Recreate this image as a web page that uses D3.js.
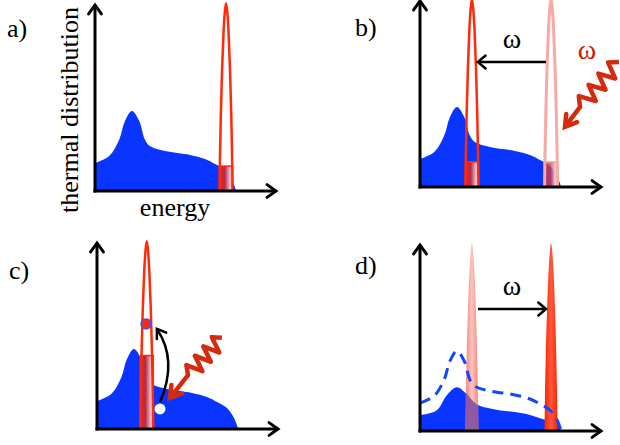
<!DOCTYPE html>
<html>
<head>
<meta charset="utf-8">
<script src="https://cdn.jsdelivr.net/npm/d3@7"></script>
<style>
body { margin: 0; background: #fff; }
</style>
</head>
<body>
<script>
// energy (0-100 along axis), occupation (0-100 up the axis)
var thermal = [[0, 15], [8, 19], [13.5, 28], [16.5, 37.5], [20.4, 43], [24.5, 37.5], [27.6, 27.5],
	[30.5, 24], [38.7, 21.5], [52.5, 19.4], [60.8, 17.2], [66.3, 14.5], [71.8, 11.3], [75.7, 5.9], [78, 0]];
var depleted = [[0, 8.6], [9.3, 11.2], [14.8, 19.2], [20.3, 23.5], [24.7, 20.9], [31.3, 14.4],
	[40.1, 11.8], [58.8, 9.1], [67.6, 6.4], [75.8, 3.7], [78, 0]];
// shape of the narrow level, offset from its centre vs height
var peakProfile = [[-3.6, 0], [-3.4, 15], [-2.9, 40], [-2.2, 65], [-1.4, 85], [-0.7, 96], [0, 101],
	[0.7, 96], [1.4, 85], [2.2, 65], [2.9, 40], [3.4, 15], [3.6, 0]];

var peaksA = [{e: 72.4, filled: 13.4, state: "current"}];
var peaksB = [{e: 72.4, filled: 13.5, state: "previous"}, {e: 28.7, filled: 13.5, state: "current"}];
var peaksC = [{e: 27.5, filled: 39.5, state: "current"}];
var peaksD = [{e: 28.7, state: "previous"}, {e: 72.4, state: "shifted"}];

var shiftB = [69.6, 32, 67.2];   // from, to, height
var shiftD = [32, 69.6, 65.6];
var photonB = [[109.9, 67.2], [88.4, 43], [80.1, 32.3]];  // start, end of wiggle, tip
var photonC = [[69, 49], [50.3, 29], [40.3, 16.7]];
var jumpC = [[34.8, 14.5], [44.8, 37], [33.1, 53.8]];     // curved arrow: start, control, end
var electronC = [27.1, 56.5];
var holeC = [34.8, 10.8];

var serif = "Liberation Serif, Times New Roman, DejaVu Serif, serif";
var W = 620, H = 445;
var svg = d3.select("body").append("svg").attr("width", W).attr("height", H)
	.attr("font-family", serif);
var defs = svg.append("defs");

function grad(id, stops) {
	var g = defs.append("linearGradient").attr("id", id).attr("x1", "0%").attr("x2", "100%");
	stops.forEach(function (s) {
		g.append("stop").attr("offset", s[0]).attr("stop-color", s[1]).attr("stop-opacity", s[2] == null ? 1 : s[2]);
	});
}
grad("rectHot", [[0, "#e0262a"], [0.4, "#b82a45"], [0.8, "#f3bcc4"], [1, "#fbe0e0"]]);
grad("rectFade", [[0, "#e0383a", 0.85], [0.45, "#d04050", 0.75], [0.8, "#f5c6cc"], [1, "#fbe4e4"]]);
grad("ghost", [[0, "#f4847c"], [0.5, "#fbc4be"], [1, "#f4847c"]]);
grad("solid", [[0, "#ff2200"], [0.5, "#ff5a3e"], [1, "#ff2200"]]);

var panels = [
	{id: "a", x0: 95, y0: 191, peaks: peaksA},
	{id: "b", x0: 420, y0: 187, peaks: peaksB},
	{id: "c", x0: 97, y0: 429, peaks: peaksC},
	{id: "d", x0: 420, y0: 431, peaks: peaksD}
];

function chevron(g, tip, angle, len, spread, color, width) {
	var pts = [-spread, spread].map(function (s) {
		return [tip[0] - len * Math.cos(angle + s), tip[1] - len * Math.sin(angle + s)];
	});
	g.append("path")
		.attr("d", "M" + pts[0] + "L" + tip + "L" + pts[1])
		.attr("fill", "none").attr("stroke", color).attr("stroke-width", width)
		.attr("stroke-linecap", "round").attr("stroke-linejoin", "miter");
}

panels.forEach(function (p) {
	var x = d3.scaleLinear().domain([0, 100]).range([p.x0, p.x0 + 181]);
	var y = d3.scaleLinear().domain([0, 100]).range([p.y0, p.y0 - 186]);
	var g = svg.append("g").attr("class", "panel-" + p.id);

	var area = d3.area().x(function (d) { return x(d[0]); }).y0(y(0))
		.y1(function (d) { return y(d[1]); }).curve(d3.curveCatmullRom);
	var dist = p.id === "d" ? depleted : thermal;
	g.append("path").attr("d", area(dist)).attr("fill", "#0a34ff");

	var peakLine = function (e) {
		return d3.line().x(function (d) { return x(e + d[0]); }).y(function (d) { return y(d[1]); })
			.curve(d3.curveMonotoneX)(peakProfile);
	};

	p.peaks.forEach(function (pk, i) {
		if (p.id === "d") {
			var fill = pk.state === "previous" ? "url(#ghost)" : "url(#solid)";
			g.append("path").attr("d", peakLine(pk.e) + "Z").attr("fill", fill);
			if (pk.state === "previous") {
				var cid = "clip-" + p.id + i;
				defs.append("clipPath").attr("id", cid).append("path").attr("d", peakLine(pk.e) + "Z");
				g.append("path").attr("d", area(dist)).attr("fill", "#6a3c9e")
					.attr("clip-path", "url(#" + cid + ")");
				g.append("path").attr("d", area(dist)).attr("fill", "url(#ghost)").attr("opacity", 0.25)
					.attr("clip-path", "url(#" + cid + ")");
			}
			return;
		}
		var faded = pk.state === "previous";
		var col = faded ? "#f9aaa4" : "#ff2a0a";
		g.append("rect")
			.attr("x", x(pk.e - 3.6)).attr("y", y(pk.filled))
			.attr("width", x(pk.e + 3.6) - x(pk.e - 3.6)).attr("height", y(0) - y(pk.filled))
			.attr("fill", faded ? "url(#rectFade)" : "url(#rectHot)")
			.attr("stroke", col).attr("stroke-width", 1.5);
		g.append("path").attr("d", peakLine(pk.e)).attr("fill", "none")
			.attr("stroke", col).attr("stroke-width", faded ? 3 : 2.5);
	});

	if (p.id === "d") {
		g.append("path")
			.attr("d", d3.line().x(function (d) { return x(d[0]); }).y(function (d) { return y(d[1]); })
				.curve(d3.curveCatmullRom)(thermal))
			.attr("fill", "none").attr("stroke", "#1446ff").attr("stroke-width", 3)
			.attr("stroke-dasharray", "11,7");
	}

	// axes
	g.append("line").attr("x1", x(0)).attr("y1", y(0) + 1.5).attr("x2", x(0)).attr("y2", y(100))
		.attr("stroke", "#000").attr("stroke-width", 3);
	g.append("line").attr("x1", x(0) - 1.5).attr("y1", y(0)).attr("x2", x(100)).attr("y2", y(0))
		.attr("stroke", "#000").attr("stroke-width", 3);
	chevron(g, [x(0), y(100)], -Math.PI / 2, 11, 0.62, "#000", 3);
	chevron(g, [x(100), y(0)], 0, 11, 0.62, "#000", 3);

	g.append("text").attr("x", p.x0 - (p.id === "a" || p.id === "c" ? 88 : 65))
		.attr("y", p.id === "a" ? 37 : p.id === "b" ? 36 : p.id === "c" ? 279 : 274)
		.attr("font-size", 26).text(p.id + ")");

	var shift = p.id === "b" ? shiftB : p.id === "d" ? shiftD : null;
	if (shift) {
		g.append("line").attr("x1", x(shift[0])).attr("x2", x(shift[1]))
			.attr("y1", y(shift[2])).attr("y2", y(shift[2]))
			.attr("stroke", "#000").attr("stroke-width", 2.5);
		chevron(g, [x(shift[1]), y(shift[2])], shift[1] > shift[0] ? 0 : Math.PI, 10, 0.7, "#000", 2.5);
		g.append("text").attr("x", x((shift[0] + shift[1]) / 2)).attr("y", y(shift[2]) - 14)
			.attr("text-anchor", "middle").attr("font-size", 28).text("ω");
	}

	var photon = p.id === "b" ? photonB : p.id === "c" ? photonC : null;
	if (photon) {
		var s = [x(photon[0][0]), y(photon[0][1])], e = [x(photon[1][0]), y(photon[1][1])],
			t = [x(photon[2][0]), y(photon[2][1])];
		var dx = e[0] - s[0], dy = e[1] - s[1], L = Math.sqrt(dx * dx + dy * dy);
		var nx = -dy / L, ny = dx / L, n = 8, amp = 8;
		var pts = d3.range(n + 1).map(function (i) {
			var off = (i === 0 || i === n) ? 0 : (i % 2 ? amp : -amp);
			return [s[0] + dx * i / n + nx * off, s[1] + dy * i / n + ny * off];
		});
		pts.push([t[0] - (t[0] - e[0]) * 0.1, t[1] - (t[1] - e[1]) * 0.1]);
		g.append("path").attr("d", d3.line()(pts)).attr("fill", "none")
			.attr("stroke", "#d42a0e").attr("stroke-width", 4.5).attr("stroke-linejoin", "round");
		chevron(g, t, Math.atan2(t[1] - e[1], t[0] - e[0]), 13, 0.55, "#d42a0e", 4.5);
		if (p.id === "b") {
			g.append("text").attr("x", 587).attr("y", 59).attr("text-anchor", "middle")
				.attr("font-size", 28).attr("fill", "#cc1a00").text("ω");
		}
	}

	if (p.id === "c") {
		var a0 = [x(jumpC[0][0]), y(jumpC[0][1])], c1 = [x(jumpC[1][0]), y(jumpC[1][1])],
			a1 = [x(jumpC[2][0]), y(jumpC[2][1])];
		var path = d3.path();
		path.moveTo(a0[0], a0[1]);
		path.quadraticCurveTo(c1[0], c1[1], a1[0], a1[1]);
		g.append("path").attr("d", path.toString()).attr("fill", "none")
			.attr("stroke", "#000").attr("stroke-width", 2.5);
		chevron(g, a1, Math.atan2(a1[1] - c1[1], a1[0] - c1[0]), 10, 0.6, "#000", 2.5);
		g.append("circle").attr("cx", x(electronC[0])).attr("cy", y(electronC[1])).attr("r", 5)
			.attr("fill", "#ff2a0a").attr("stroke", "#3a55ff").attr("stroke-width", 1.5);
		g.append("circle").attr("cx", x(holeC[0])).attr("cy", y(holeC[1])).attr("r", 5.5)
			.attr("fill", "#fff");
	}
});

svg.append("text").attr("transform", "translate(78,110) rotate(-90)")
	.attr("text-anchor", "middle").attr("font-size", 26).text("thermal distribution");
svg.append("text").attr("x", 175).attr("y", 216)
	.attr("text-anchor", "middle").attr("font-size", 26).text("energy");
</script>
</body>
</html>
